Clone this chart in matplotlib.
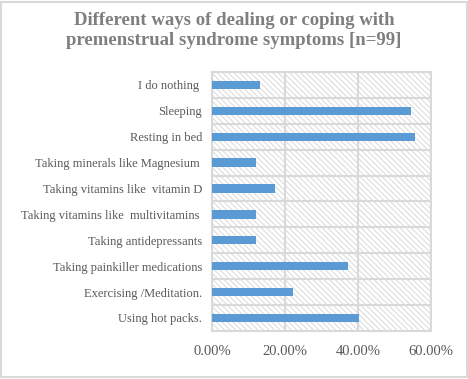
import matplotlib.pyplot as plt
import matplotlib.patches as mpatches
from matplotlib.ticker import FuncFormatter
import numpy as np

plt.rcParams['font.family'] = ['Liberation Serif', 'DejaVu Serif']
plt.rcParams['hatch.color'] = '#d4d4d4'
plt.rcParams['hatch.linewidth'] = 0.7

# Categories top to bottom
categories = ['I do nothing ', 'Sleeping', 'Resting in bed', 'Taking minerals like Magnesium ',
              'Taking vitamins like  vitamin D', 'Taking vitamins like  multivitamins ',
              'Taking antidepressants', 'Taking painkiller medications',
              'Exercising /Meditation.', 'Using hot packs.']
values = [13.13, 54.55, 55.56, 12.12, 17.17, 12.12, 12.12, 37.37, 22.22, 40.40]
xticks = [0, 20, 40, 60]

grid_col = '#d9d9d9'
text_col = '#595959'


def render():
    fig = plt.figure(figsize=(4.68, 3.79), dpi=100)
    ax = fig.add_axes([0.453, 0.127, 0.468, 0.683])

    n = len(categories)
    y = np.arange(n)[::-1]

    bg = mpatches.Rectangle((0, 0), 1, 1, transform=ax.transAxes, facecolor='white',
                            edgecolor=grid_col, hatch='\\\\\\\\\\\\', linewidth=0, zorder=0)
    ax.add_patch(bg)

    ax.barh(y, values, height=0.32, color='#5b9bd5', zorder=3)

    ax.set_xlim(0, 60)
    ax.set_ylim(-0.5, n - 0.5)
    ax.set_xticks(xticks)
    ax.xaxis.set_major_formatter(FuncFormatter(lambda v, p: f'{v:.2f}%'))
    ax.set_yticks(y)
    ax.set_yticklabels(categories)
    ax.set_yticks(np.arange(n - 1) + 0.5, minor=True)

    ax.grid(axis='x', which='major', color=grid_col, linewidth=1.5, zorder=1)
    ax.grid(axis='y', which='minor', color=grid_col, linewidth=1.5, zorder=1)
    ax.tick_params(axis='both', which='both', length=0, colors=text_col, labelsize=9)
    ax.tick_params(axis='x', pad=10, labelsize=10.5)
    ax.tick_params(axis='y', pad=7)
    for s in ax.spines.values():
        s.set_color(grid_col)
        s.set_linewidth(1.5)

    fig.text(0.5, 0.968, 'Different ways of dealing or coping with\npremenstrual syndrome symptoms [n=99]',
             ha='center', va='top', fontsize=13.5, fontweight='bold', color='#7f7f7f',
             linespacing=1.25)

    border = mpatches.Rectangle((0.003, 0.004), 0.994, 0.992, transform=fig.transFigure,
                                fill=False, edgecolor=grid_col, linewidth=1.5)
    fig.patches.append(border)

    fig.savefig('out.png', dpi=100)


def main():
    render()


if __name__ == "__main__":
    main()
